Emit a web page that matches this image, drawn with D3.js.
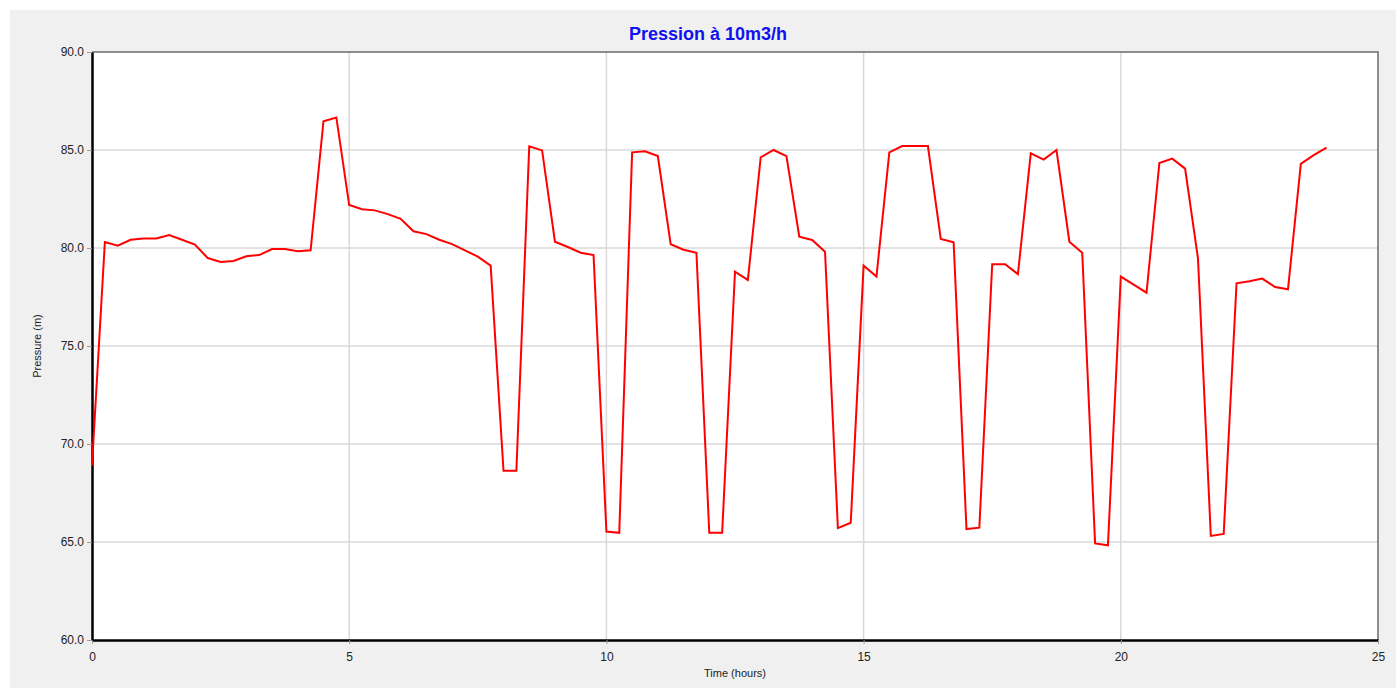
<html>
<head>
<script src="https://d3js.org/d3.v7.min.js"></script>
<style>
body { margin: 0; background: #fff; }
text { font-family: "Liberation Sans", Arial, sans-serif; }
</style>
</head>
<body>
<svg></svg>
<script>

var width = 1396;
var height = 688;
var margin = { top: 52, right: 18, bottom: 48, left: 92 };

// time in hours, one reading every 15 minutes
var hours = d3.range(0, 24.01, 0.25);
var pressure = [
	68.9, 80.3, 80.12, 80.42, 80.49, 80.49, 80.66, 80.42, 80.17, 79.49, 79.29, 79.34,
	79.58, 79.64, 79.95, 79.95, 79.83, 79.88, 86.47, 86.66, 82.19, 81.98, 81.92, 81.73,
	81.49, 80.85, 80.71, 80.42, 80.2, 79.88, 79.56, 79.1, 68.63, 68.63, 85.19, 84.98,
	80.32, 80.05, 79.76, 79.64, 65.53, 65.47, 84.88, 84.93, 84.69, 80.19, 79.91, 79.76,
	65.47, 65.47, 78.79, 78.37, 84.63, 85.0, 84.69, 80.58, 80.41, 79.81, 65.71, 65.98,
	79.1, 78.54, 84.88, 85.2, 85.2, 85.2, 80.46, 80.29, 65.66, 65.73, 79.17, 79.17,
	78.67, 84.83, 84.51, 85.0, 80.32, 79.76, 64.93, 64.83, 78.54, 78.13, 77.72, 84.34,
	84.56, 84.05, 79.48, 65.31, 65.41, 78.2, 78.3, 78.44, 78.01, 77.89, 84.29, 84.74,
	85.12
];
var xTicks = [0, 5, 10, 15, 20, 25];
var yTicks = [60, 65, 70, 75, 80, 85, 90];

var data = hours.map(function (h, i) { return { t: h, v: pressure[i] }; });

var svg = d3.select("svg").attr("width", width).attr("height", height);

// grey panel
svg.append("rect").attr("x", 10).attr("y", 10).attr("width", width - 10).attr("height", height - 10)
	.style("fill", "#f0f0f0");

var x = d3.scaleLinear().domain([0, 25]).range([margin.left, width - margin.right]);
var y = d3.scaleLinear().domain([60, 90]).range([height - margin.bottom, margin.top]);

svg.append("rect")
	.attr("x", x(0)).attr("y", y(90))
	.attr("width", x(25) - x(0)).attr("height", y(60) - y(90))
	.style("fill", "#fff");

// grid
svg.selectAll(".vgrid").data(xTicks.slice(1, -1)).enter().append("line")
	.attr("x1", function (d) { return x(d); }).attr("x2", function (d) { return x(d); })
	.attr("y1", y(90)).attr("y2", y(60))
	.style("stroke", "#d9d9d9").style("stroke-width", 1.5);
svg.selectAll(".hgrid").data(yTicks.slice(1, -1)).enter().append("line")
	.attr("y1", function (d) { return y(d); }).attr("y2", function (d) { return y(d); })
	.attr("x1", x(0)).attr("x2", x(25))
	.style("stroke", "#d9d9d9").style("stroke-width", 1.5);

// top and right frame
svg.append("path")
	.attr("d", "M" + x(0) + "," + y(90) + "H" + x(25) + "V" + y(60))
	.style("fill", "none").style("stroke", "#6a6a6a").style("stroke-width", 1.5);

// axes
var xAxis = svg.append("g").attr("transform", "translate(0," + y(60) + ")")
	.call(d3.axisBottom(x).tickValues(xTicks).tickFormat(d3.format("d")).tickSize(4).tickSizeOuter(0));
var yAxis = svg.append("g").attr("transform", "translate(" + x(0) + ",0)")
	.call(d3.axisLeft(y).tickValues(yTicks).tickFormat(d3.format(".1f")).tickSize(5).tickSizeOuter(0));

[xAxis, yAxis].forEach(function (g) {
	g.select(".domain").style("stroke", "#000").style("stroke-width", 2.5);
	g.selectAll(".tick line").style("stroke", "#999");
	g.selectAll(".tick text").style("font-size", "12px").style("fill", "#222")
		.style("font-family", "'Liberation Sans', Arial, sans-serif");
});
xAxis.selectAll(".tick text").attr("dy", "1.2em");

// line
var line = d3.line()
	.x(function (d) { return x(d.t); })
	.y(function (d) { return y(d.v); });

svg.append("path").datum(data)
	.attr("d", line)
	.style("fill", "none")
	.style("stroke", "#ff0000")
	.style("stroke-width", 2)
	.style("stroke-linejoin", "miter");

// labels
svg.append("text").attr("x", 708).attr("y", 40)
	.attr("text-anchor", "middle")
	.style("font-size", "18px").style("font-weight", "bold").style("fill", "#1010f0")
	.text("Pression à 10m3/h");

svg.append("text").attr("x", (x(0) + x(25)) / 2).attr("y", 677)
	.attr("text-anchor", "middle")
	.style("font-size", "11px").style("fill", "#222")
	.text("Time (hours)");

svg.append("text")
	.attr("transform", "translate(41," + ((y(60) + y(90)) / 2) + ") rotate(-90)")
	.attr("text-anchor", "middle")
	.style("font-size", "11px").style("fill", "#222")
	.text("Pressure (m)");

</script>
</body>
</html>
